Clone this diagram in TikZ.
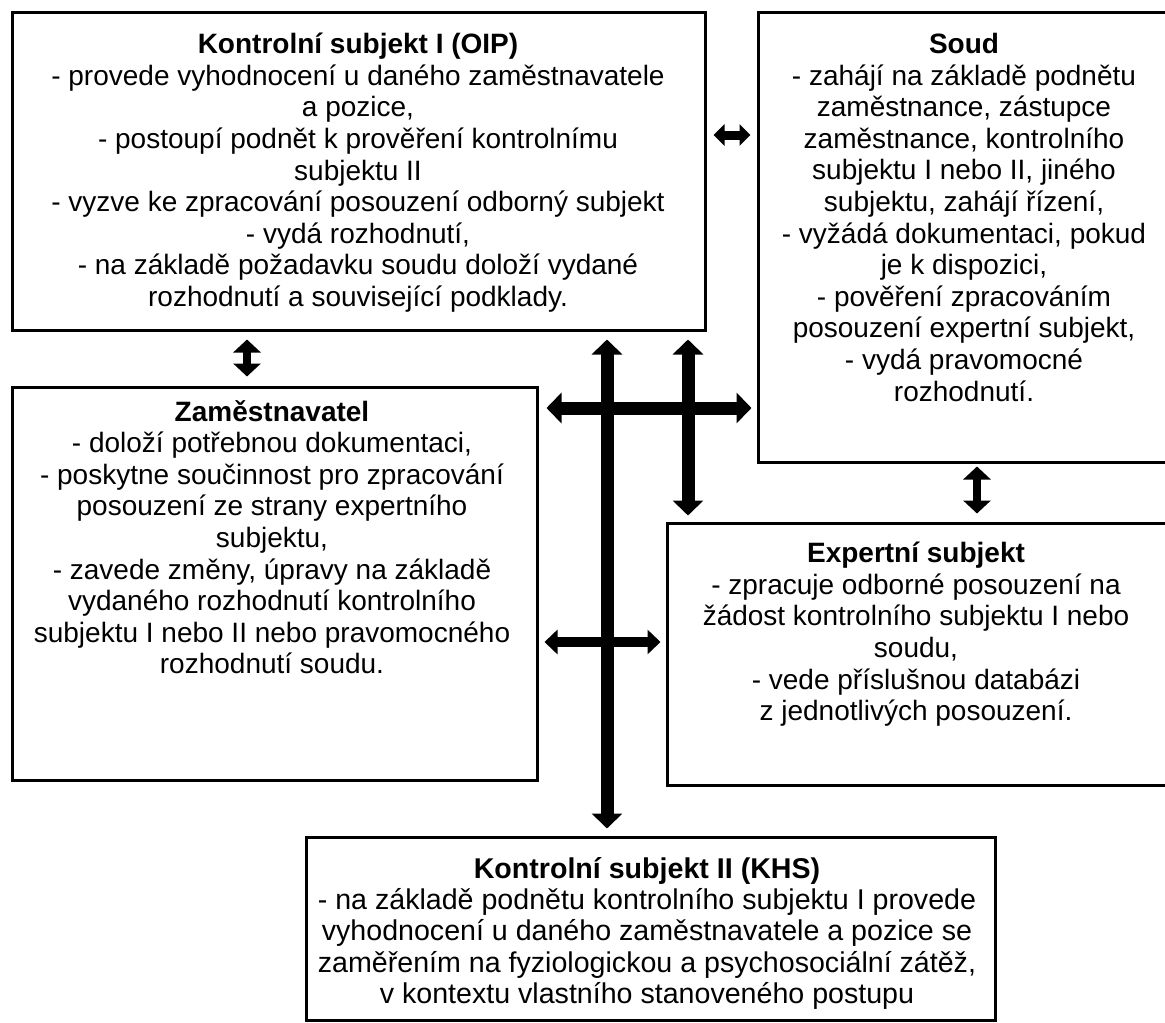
\documentclass[tikz,border=0pt]{standalone}
\usepackage{fontspec}
\setmainfont{Liberation Sans}
\usetikzlibrary{arrows.meta,calc}
\begin{document}
\begin{tikzpicture}[x=1pt,y=-1pt,
  box/.style={draw=black, line width=3pt, inner sep=0pt, fill=white},
  txt/.style={align=center, inner sep=0pt, anchor=north, font=\fontsize{28}{31.6}\selectfont},
  bigarrow/.style={line width=13pt, {Triangle[width=30pt,length=15pt]}-{Triangle[width=30pt,length=15pt]}},
  midarrow/.style={line width=10pt, {Triangle[width=24pt,length=13pt]}-{Triangle[width=24pt,length=13pt]}},
  smallarrow/.style={line width=8pt, {Triangle[width=27pt,length=13pt]}-{Triangle[width=27pt,length=13pt]}},
  tinyarrow/.style={line width=9pt, {Triangle[width=21pt,length=11pt]}-{Triangle[width=21pt,length=11pt]}}
]
\useasboundingbox (0,0) rectangle (1165,1023);
\clip (0,0) rectangle (1165,1023);
\fill[white] (0,0) rectangle (1165,1023);

% boxes
\node[box, minimum width=693pt, minimum height=318pt] (b1) at (358.5,171) {};
\node[box, minimum width=412pt, minimum height=450pt] (soud) at (964,237) {};
\node[box, minimum width=525pt, minimum height=393pt] (zam) at (274.5,583.5) {};
\node[box, minimum width=503pt, minimum height=262pt] (exp) at (918.5,654) {};
\node[box, minimum width=689pt, minimum height=183pt] (khs) at (650.5,928.5) {};

% texts
\node[txt] (t1) at (358,33) {\textbf{Kontrolní subjekt I (OIP)}\\
- provede vyhodnocení u daného zaměstnavatele\\
a pozice,\\
- postoupí podnět k prověření kontrolnímu\\
subjektu II\\
- vyzve ke zpracování posouzení odborný subjekt\\
- vydá rozhodnutí,\\
- na základě požadavku soudu doloží vydané\\
rozhodnutí a související podklady.};

\node[txt] (t2) at (964,33) {\textbf{Soud}\\
- zahájí na základě podnětu\\
zaměstnance, zástupce\\
zaměstnance, kontrolního\\
subjektu I nebo II, jiného\\
subjektu, zahájí řízení,\\
- vyžádá dokumentaci, pokud\\
je k dispozici,\\
- pověření zpracováním\\
posouzení expertní subjekt,\\
- vydá pravomocné\\
rozhodnutí.};

\node[txt] (t3) at (272,400) {\textbf{Zaměstnavatel}\\
- doloží potřebnou dokumentaci,\\
- poskytne součinnost pro zpracování\\
posouzení ze strany expertního\\
subjektu,\\
- zavede změny, úpravy na základě\\
vydaného rozhodnutí kontrolního\\
subjektu I nebo II nebo pravomocného\\
rozhodnutí soudu.};

\node[txt] (t4) at (916,542) {\textbf{Expertní subjekt}\\
- zpracuje odborné posouzení na\\
žádost kontrolního subjektu I nebo\\
soudu,\\
- vede příslušnou databázi\\
z jednotlivých posouzení.};

\node[txt, font=\fontsize{28.6}{31.4}\selectfont] (t5) at (647,857) {\textbf{Kontrolní subjekt II (KHS)}\\
- na základě podnětu kontrolního subjektu I provede\\
vyhodnocení u daného zaměstnavatele a pozice se\\
zaměřením na fyziologickou a psychosociální zátěž,\\
v kontextu vlastního stanoveného postupu};

% helper coordinates
\coordinate (xa) at (607,0);
\coordinate (xb) at (688,0);
\coordinate (xc) at (247,0);
\coordinate (xd) at (977,0);
\coordinate (ya) at (0,408);
\coordinate (yb) at (0,642);
\coordinate (yc) at (0,135);

% arrows
\draw[bigarrow, shorten <=8pt, shorten >=7pt] (b1.south -| xa) -- (khs.north -| xa);
\draw[bigarrow, shorten <=8pt, shorten >=6pt] (b1.south -| xb) -- (exp.north -| xb);
\draw[bigarrow, shorten <=8pt, shorten >=5pt] (zam.east |- ya) -- (soud.west |- ya);
\draw[midarrow, shorten <=6pt, shorten >=5pt] (zam.east |- yb) -- (exp.west |- yb);
\draw[smallarrow, shorten <=8pt, shorten >=9pt] (b1.south -| xc) -- (zam.north -| xc);
\draw[smallarrow, shorten <=3pt, shorten >=8pt] (soud.south -| xd) -- (exp.north -| xd);
\draw[tinyarrow, shorten <=7pt, shorten >=6pt] (b1.east |- yc) -- (soud.west |- yc);
\end{tikzpicture}
\end{document}
